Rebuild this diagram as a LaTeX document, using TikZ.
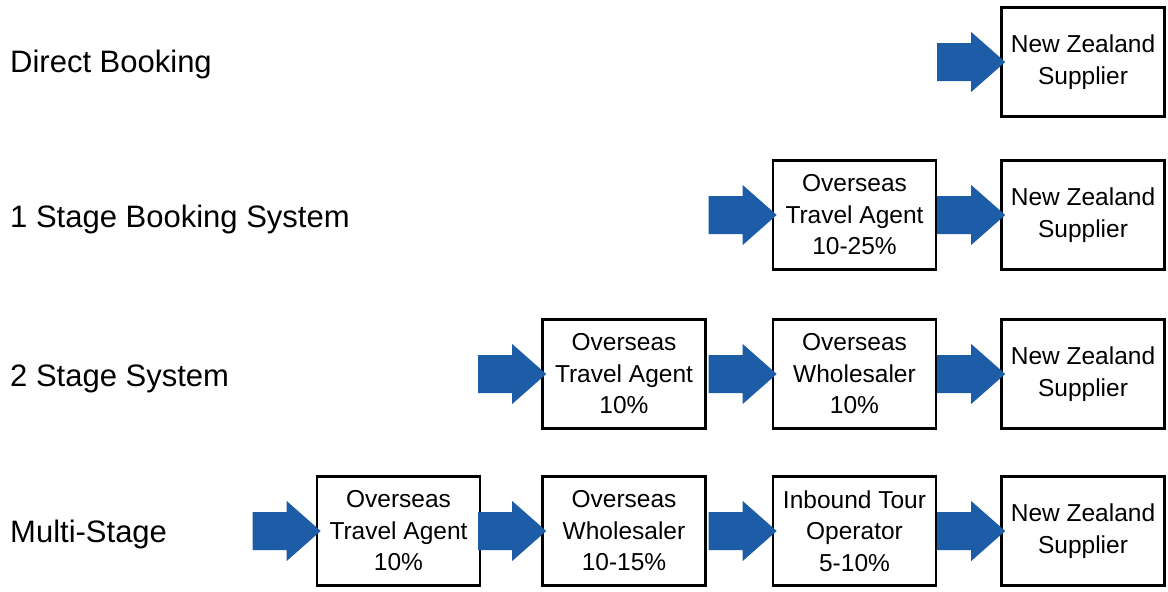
\documentclass[tikz,border=0pt]{standalone}
\usepackage{fontspec}
\setmainfont{Liberation Sans}
\usetikzlibrary{calc}
\definecolor{arrowblue}{RGB}{29,93,168}
\tikzset{
  stagebox/.style={draw=black, line width=2.6pt, minimum width=163pt, minimum height=109pt,
    align=center, inner sep=0pt, font=\fontsize{24.5}{31.5}\selectfont},
  rowlabel/.style={anchor=base west, inner sep=0pt, font=\fontsize{31}{37}\selectfont},
  arrowbody/.style={fill=arrowblue, draw=none}
}
% block arrow ending at a target node
\newcommand\blockarrow[1]{%
  \fill[arrowbody] ($(#1.west)+(5,0)$) -- ++(-34,-30) -- ++(0,11) -- ++(-34,0)
    -- ++(0,38) -- ++(34,0) -- ++(0,11) -- cycle;}
\begin{document}
\begin{tikzpicture}[x=1pt,y=-1pt]
\useasboundingbox (0,0) rectangle (1168,592);
% row labels
\node[rowlabel] (l1) at (10,72) {Direct Booking};
\node[rowlabel] (l2) at (10,227) {1 Stage Booking System};
\node[rowlabel] (l3) at (10,386) {2 Stage System};
\node[rowlabel] (l4) at (10,542) {Multi-Stage};
% row 1
\node[stagebox] (r1nz) at (1083,62) {New Zealand\\Supplier};
% row 2
\node[stagebox] (r2ota) at (854.5,215) {Overseas\\Travel Agent\\10-25\%};
\node[stagebox] (r2nz) at (1083,215) {New Zealand\\Supplier};
% row 3
\node[stagebox] (r3ota) at (624,374) {Overseas\\Travel Agent\\10\%};
\node[stagebox] (r3ws) at (854.5,374) {Overseas\\Wholesaler\\10\%};
\node[stagebox] (r3nz) at (1083,374) {New Zealand\\Supplier};
% row 4
\node[stagebox] (r4ota) at (398.5,531) {Overseas\\Travel Agent\\10\%};
\node[stagebox] (r4ws) at (624,531) {Overseas\\Wholesaler\\10-15\%};
\node[stagebox] (r4ito) at (854.5,531) {Inbound Tour\\Operator\\5-10\%};
\node[stagebox] (r4nz) at (1083,531) {New Zealand\\Supplier};
% arrows
\blockarrow{r1nz}
\blockarrow{r2ota}\blockarrow{r2nz}
\blockarrow{r3ota}\blockarrow{r3ws}\blockarrow{r3nz}
\blockarrow{r4ota}\blockarrow{r4ws}\blockarrow{r4ito}\blockarrow{r4nz}
\end{tikzpicture}
\end{document}
